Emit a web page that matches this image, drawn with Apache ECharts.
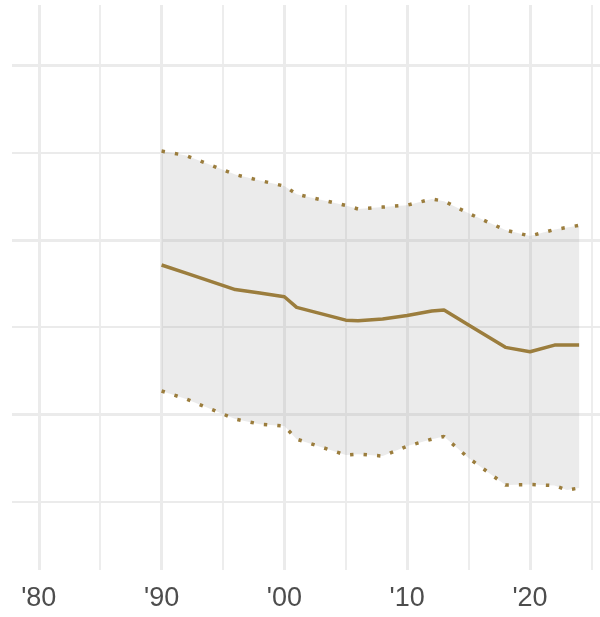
<!DOCTYPE html>
<html>
<head>
<meta charset="utf-8">
<script src="https://cdn.jsdelivr.net/npm/echarts@6/dist/echarts.min.js"></script>
<style>
  html, body { margin: 0; padding: 0; background: #ffffff; }
  #chart { width: 600px; height: 617px; }
</style>
</head>
<body>
<div id="chart"></div>
<script>
// ---- data ----
const years = [1990, 1992, 1996, 1998, 2000, 2001, 2005, 2006, 2008, 2010, 2012, 2013, 2015, 2018, 2020, 2022, 2023, 2024];
const meanValues  = [18.56, 18.09, 17.15, 16.95, 16.74, 16.13, 15.40, 15.36, 15.46, 15.66, 15.92, 15.98, 15.12, 13.84, 13.59, 13.97, 13.97, 13.97];
const upperValues = [25.09, 24.83, 23.74, 23.40, 23.08, 22.62, 21.97, 21.77, 21.88, 21.99, 22.34, 22.22, 21.52, 20.56, 20.22, 20.59, 20.71, 20.83];
const lowerValues = [11.34, 10.88, 9.73, 9.44, 9.33, 8.58, 7.67, 7.72, 7.61, 8.18, 8.58, 8.73, 7.50, 5.95, 5.98, 5.92, 5.66, 5.78];
const xMajorTicks = [1980, 1990, 2000, 2010, 2020];
const xMinorTicks = [1985, 1995, 2005, 2015, 2025];
const yMajorTicks = [10, 20, 30];
const yMinorTicks = [5, 15, 25];

// ---- styling ----
const gold = '#9b7d3d';
const gridColor = '#ebebeb';

const pairs = (vals) => years.map((y, i) => [y, vals[i]]);

const gridLines = [];
xMinorTicks.forEach(v => gridLines.push({ xAxis: v, lineStyle: { color: gridColor, width: 1.8, type: 'solid' } }));
yMinorTicks.forEach(v => gridLines.push({ yAxis: v, lineStyle: { color: gridColor, width: 1.8, type: 'solid' } }));
xMajorTicks.forEach(v => gridLines.push({ xAxis: v, lineStyle: { color: gridColor, width: 3, type: 'solid' } }));
yMajorTicks.forEach(v => gridLines.push({ yAxis: v, lineStyle: { color: gridColor, width: 3, type: 'solid' } }));

const chart = echarts.init(document.getElementById('chart'), null, { renderer: 'canvas' });
chart.setOption({
  animation: false,
  backgroundColor: '#ffffff',
  grid: { left: 12, right: 0, top: 5, bottom: 47, containLabel: false },
  xAxis: {
    type: 'value',
    min: 1977.82,
    max: 2025.70,
    axisLine: { show: false },
    axisTick: { show: false },
    splitLine: { show: false },
    axisLabel: {
      customValues: xMajorTicks,
      formatter: (v) => "'" + String(v).slice(2),
      fontSize: 27,
      fontFamily: 'Liberation Sans, Arial, sans-serif',
      color: '#4d4d4d',
      margin: 15
    }
  },
  yAxis: {
    type: 'value',
    min: 1.08,
    max: 33.46,
    axisLine: { show: false },
    axisTick: { show: false },
    axisLabel: { show: false },
    splitLine: { show: false }
  },
  series: [
    {
      name: 'grid',
      type: 'line',
      z: 0,
      data: pairs(lowerValues),
      showSymbol: false,
      lineStyle: { opacity: 0 },
      silent: true,
      markLine: {
        silent: true,
        symbol: ['none', 'none'],
        label: { show: false },
        animation: false,
        z: 0,
        data: gridLines
      }
    },
    {
      name: 'band',
      type: 'custom',
      z: 2,
      silent: true,
      data: [[years[0], upperValues[0]]],
      renderItem: function (params, api) {
        const pts = [];
        for (let i = 0; i < years.length; i++) pts.push(api.coord([years[i], upperValues[i]]));
        for (let i = years.length - 1; i >= 0; i--) pts.push(api.coord([years[i], lowerValues[i]]));
        return {
          type: 'polygon',
          shape: { points: pts },
          style: { fill: 'rgba(153,153,153,0.2)', stroke: null }
        };
      }
    },
    {
      name: 'upper',
      type: 'line',
      z: 3,
      data: pairs(upperValues),
      showSymbol: false,
      lineStyle: { color: gold, width: 3.5, type: [3.4, 10.1], cap: 'butt' }
    },
    {
      name: 'lower',
      type: 'line',
      z: 3,
      data: pairs(lowerValues),
      showSymbol: false,
      lineStyle: { color: gold, width: 3.5, type: [3.4, 10.1], cap: 'butt' }
    },
    {
      name: 'mean',
      type: 'line',
      z: 4,
      data: pairs(meanValues),
      showSymbol: false,
      lineStyle: { color: gold, width: 3.5, type: 'solid', join: 'round' }
    }
  ]
});
</script>
</body>
</html>
